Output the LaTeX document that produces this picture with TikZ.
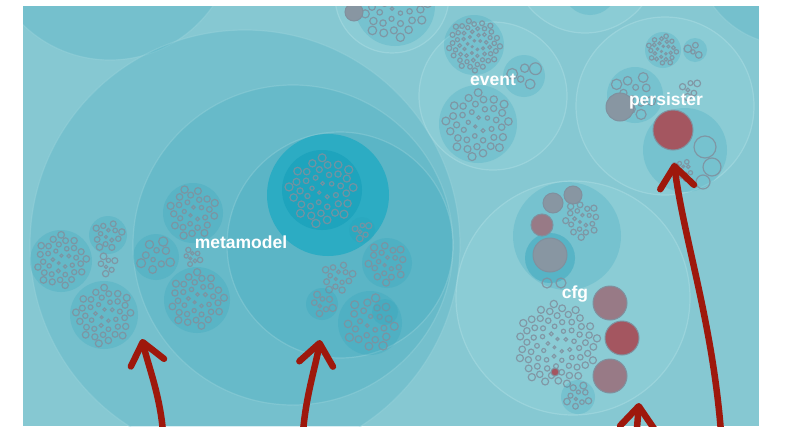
\documentclass[tikz,border=0pt]{standalone}
\usepackage{fontspec}
\setmainfont{Liberation Sans}
\usetikzlibrary{arrows.meta}

\definecolor{paneltint}{RGB}{134,200,210}
\definecolor{palecirc}{RGB}{139,204,213}
\definecolor{circrim}{RGB}{162,216,223}
\definecolor{packtint}{RGB}{35,158,184}
\definecolor{cyandisc}{RGB}{44,172,195}
\definecolor{cyancore}{RGB}{30,164,189}
\definecolor{ringgray}{RGB}{128,144,158}
\definecolor{greyfill}{RGB}{136,150,162}
\definecolor{mauvefill}{RGB}{152,122,134}
\definecolor{redfill}{RGB}{164,86,96}
\definecolor{arrowred}{RGB}{158,24,12}

\tikzset{
  lightcirc/.style={fill=palecirc, draw=circrim, draw opacity=0.7, line width=1.2pt},
  bigcirc/.style={fill=packtint, fill opacity=0.17, draw=circrim, draw opacity=0.35, line width=1.2pt},
  packcirc/.style={fill=packtint, fill opacity=0.2},
  ring/.style={draw=ringgray, draw opacity=0.85, line width=1.2pt},
  greyball/.style={fill=greyfill, draw=ringgray, line width=1pt},
  mauveball/.style={fill=mauvefill, draw=ringgray, line width=1pt},
  redball/.style={fill=redfill, draw=ringgray, line width=1pt},
  pkglabel/.style={text=white, inner sep=0pt, font=\bfseries\fontsize{17.5}{20}\selectfont},
  hintarrow/.style={draw=arrowred, line width=6.5pt, line cap=round, line join=round,
    -{Straight Barb[length=21pt, width=34pt, round]}}
}

% rings laid out as a sunflower: centre x, centre y, radius, count
\newcommand{\pkgrings}[4]{%
  \foreach \k in {1,...,#4}{
    \pgfmathsetmacro{\rfrac}{sqrt((\k-0.5)/#4)}
    \pgfmathsetmacro{\rdist}{#3*(0.95-0.6/sqrt(#4))*\rfrac}
    \pgfmathsetmacro{\rsize}{#3/sqrt(#4)*(0.2+0.45*\rfrac)}
    \draw[ring] (#1,#2) ++(\k*137.508:\rdist) circle[radius=\rsize];
  }}
% a package circle holding its classes
\newcommand{\pkgpack}[4]{%
  \fill[packcirc] (#1,#2) circle[radius=#3];
  \pkgrings{#1}{#2}{#3}{#4}}

\begin{document}
\begin{tikzpicture}[x=1pt,y=-1pt]
\useasboundingbox (0,0) rectangle (789,426);
\fill[paneltint] (23,6) rectangle (759,426);
\begin{scope}
\clip (23,6) rectangle (759,426);

% circles at the top edge
\filldraw[bigcirc] (110,-65) circle[radius=125];
\filldraw[bigcirc] (790,-50) circle[radius=95];
\filldraw[lightcirc] (585,-40) circle[radius=73];
\fill[packcirc] (590,-12) circle[radius=27];

% metamodel
\filldraw[bigcirc] (245,245) circle[radius=215];
\pkgpack{61}{261}{31}{36}
\pkgpack{108}{235}{19}{14}
\pkgrings{108}{265}{14}{7}
\pkgpack{104}{315}{34}{40}
\filldraw[bigcirc] (293,245) circle[radius=160];
\pkgpack{156}{257}{23}{10}
\pkgpack{193}{213}{30}{28}
\pkgrings{192}{257}{12}{8}
\pkgpack{197}{300}{33}{36}
\filldraw[bigcirc] (340,245) circle[radius=113];
\fill[cyandisc] (328,195) circle[radius=61];
\fill[cyancore] (322,190) circle[radius=40];
\pkgrings{322}{190}{40}{40}
\pkgpack{362}{230}{13}{6}
\pkgrings{338}{277}{20}{14}
\pkgpack{387}{263}{25}{20}
\pkgpack{322}{304}{16}{8}
\pkgpack{370}{323}{32}{24}
\fill[packcirc] (385,312) circle[radius=13];

% package cut by the top edge
\filldraw[lightcirc] (392,-4) circle[radius=57];
\pkgpack{395}{6}{40}{36}
\filldraw[greyball] (354,12) circle[radius=9];

% event
\filldraw[lightcirc] (493,96) circle[radius=74];
\pkgpack{474}{45}{30}{55}
\pkgpack{478}{124}{39}{40}
\pkgpack{524}{76}{21}{5}

% persister
\filldraw[lightcirc] (665,106) circle[radius=89];
\pkgpack{663}{50}{18}{25}
\pkgpack{695}{50}{12}{4}
\pkgpack{635}{95}{28}{12}
\filldraw[greyball] (620,107) circle[radius=14];
\pkgrings{690}{88}{14}{6}
\fill[packcirc] (685,150) circle[radius=42];
\filldraw[redball] (673,130) circle[radius=20];
\draw[ring] (705,147) circle[radius=11];
\draw[ring] (712,167) circle[radius=9];
\draw[ring] (703,182) circle[radius=7];
\pkgrings{683}{170}{13}{12}

% cfg
\filldraw[lightcirc] (573,298) circle[radius=117];
\fill[packcirc] (567,236) circle[radius=54];
\fill[packcirc] (550,258) circle[radius=25];
\fill[packcirc] (550,258) circle[radius=25];
\filldraw[greyball] (550,255) circle[radius=17];
\draw[ring] (547,283) circle[radius=5];
\draw[ring] (561,283) circle[radius=5];
\filldraw[mauveball] (542,225) circle[radius=11];
\filldraw[greyball] (553,203) circle[radius=10];
\filldraw[greyball] (573,195) circle[radius=9];
\pkgrings{582}{220}{22}{20}
\pkgrings{557}{345}{47}{70}
\filldraw[redball] (555,372) circle[radius=4];
\filldraw[mauveball] (610,303) circle[radius=17];
\filldraw[redball] (622,338) circle[radius=17];
\filldraw[mauveball] (610,376) circle[radius=17];
\pkgpack{578}{397}{17}{10}

% labels
\node[pkglabel] (metamodel) at (241,242) {metamodel};
\node[pkglabel] (event) at (493,80) {event};
\node[pkglabel] (persister) at (666,101) {persister};
\node[pkglabel] (cfg) at (575,294) {cfg};

% hand drawn arrows
\coordinate (leftTail) at (163,432);
\coordinate (leftTip) at (142,339);
\coordinate (midTail) at (303,432);
\coordinate (midTip) at (320,340);
\coordinate (cfgTail) at (636,440);
\coordinate (cfgTip) at (639,403);
\coordinate (persTail) at (721,432);
\coordinate (persTip) at (674,163);
\draw[hintarrow] (leftTail) .. controls (160,395) and (148,365) .. (leftTip);
\draw[hintarrow] (midTail) .. controls (306,395) and (316,365) .. (midTip);
\draw[hintarrow] (cfgTail) -- (cfgTip);
\draw[hintarrow] (persTail) .. controls (712,320) and (684,240) .. (persTip);
\end{scope}
\end{tikzpicture}
\end{document}
